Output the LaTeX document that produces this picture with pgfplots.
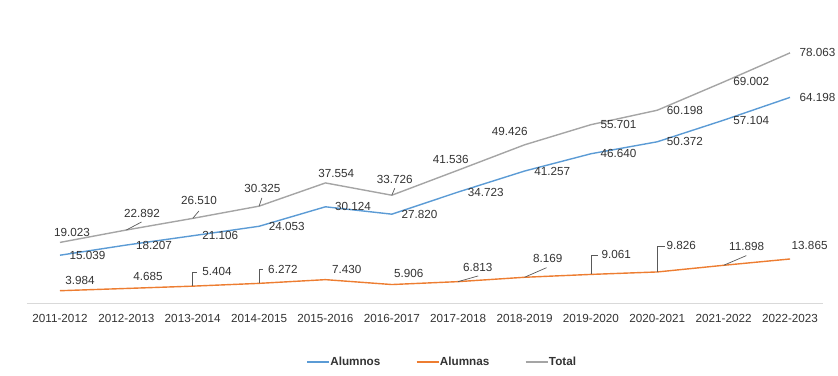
\documentclass[border=0pt]{standalone}
\usepackage{fontspec}
\setmainfont{Liberation Sans}
\usepackage{pgfplots}
\pgfplotsset{compat=1.18}
\definecolor{cBlue}{HTML}{5B9BD5}
\definecolor{cOrange}{HTML}{ED7D31}
\definecolor{cGray}{HTML}{A5A5A5}
\definecolor{cText}{HTML}{333333}
\definecolor{cAxis}{HTML}{D9D9D9}
\definecolor{cLead}{HTML}{595959}
\newcommand{\fs}{\fontsize{11.7bp}{13bp}\selectfont}
\newcommand{\lab}[5]{\node[font=\fs, text=cText, inner sep=0, anchor=center] at ([shift={(#3bp,#4bp)}]axis cs:#1,#2) {#5};}
\newcommand{\labR}[3]{\node[font=\fs, text=cText, inner sep=0, anchor=west] at ([xshift=9.5bp]axis cs:#1,#2) {#3};}
\newcommand{\ldr}[4]{\draw[cLead, line width=0.7bp] (axis cs:#1,#2) -- ([shift={(#3bp,#4bp)}]axis cs:#1,#2);}
\newcommand{\elb}[4]{\draw[cLead, line width=0.7bp] (axis cs:#1,#2) -- ([shift={(0bp,#3bp)}]axis cs:#1,#2) -- ([shift={(#4bp,#3bp)}]axis cs:#1,#2);}
\begin{document}
\begin{tikzpicture}
\path[use as bounding box] (0,0) rectangle (838bp,376bp);
\begin{axis}[
  at={(26.8bp,72.5bp)}, anchor=south west,
  scale only axis, width=796.4bp, height=272.9bp,
  xmin=-0.5, xmax=11.5, ymin=0, ymax=85,
  clip=false,
  axis x line=bottom, axis y line=none,
  x axis line style={cAxis, line width=0.8bp, -},
  major tick length=0pt,
  xtick={0,1,2,3,4,5,6,7,8,9,10,11},
  xticklabels={2011-2012,2012-2013,2013-2014,2014-2015,2015-2016,2016-2017,2017-2018,2018-2019,2019-2020,2020-2021,2021-2022,2022-2023},
  xticklabel style={font=\fs, text=cText, anchor=north, inner sep=0pt, yshift=-10.6bp},
  ytick=\empty,
  legend columns=3,
  legend style={at={(0.5207,-0.2144)}, anchor=center, draw=none, fill=none,
    font=\bfseries\fs, text=cText,
    nodes={inner sep=0.6bp},
    /tikz/every even column/.append style={column sep=35bp}},
  legend image code/.code={\draw[#1, line width=1.4bp] (0bp,0bp) -- (22bp,0bp);},
]
\addplot[cBlue, line width=1.4bp, mark=none] coordinates {
 (0,15.039) (1,18.207) (2,21.106) (3,24.053) (4,30.124) (5,27.820)
 (6,34.723) (7,41.257) (8,46.640) (9,50.372) (10,57.104) (11,64.198)};
\addlegendentry{Alumnos}
\addplot[cOrange, line width=1.4bp, mark=none] coordinates {
 (0,3.984) (1,4.685) (2,5.404) (3,6.272) (4,7.430) (5,5.906)
 (6,6.813) (7,8.169) (8,9.061) (9,9.826) (10,11.898) (11,13.865)};
\addlegendentry{Alumnas}
\addplot[cGray, line width=1.4bp, mark=none] coordinates {
 (0,19.023) (1,22.892) (2,26.510) (3,30.325) (4,37.554) (5,33.726)
 (6,41.536) (7,49.426) (8,55.701) (9,60.198) (10,69.002) (11,78.063)};
\addlegendentry{Total}

% Alumnos labels
\labR{0}{15.039}{15.039}
\labR{1}{18.207}{18.207}
\labR{2}{21.106}{21.106}
\labR{3}{24.053}{24.053}
\labR{4}{30.124}{30.124}
\labR{5}{27.820}{27.820}
\labR{6}{34.723}{34.723}
\labR{7}{41.257}{41.257}
\labR{8}{46.640}{46.640}
\labR{9}{50.372}{50.372}
\labR{10}{57.104}{57.104}
\labR{11}{64.198}{64.198}

% Total labels
\lab{0}{19.023}{12}{10.4}{19.023}
\ldr{1}{22.892}{15.2}{8}
\lab{1}{22.892}{15.6}{17}{22.892}
\ldr{2}{26.510}{6.2}{7.4}
\lab{2}{26.510}{6.2}{17.7}{26.510}
\ldr{3}{30.325}{2.8}{8.2}
\lab{3}{30.325}{3.3}{17.2}{30.325}
\lab{4}{37.554}{10.9}{9}{37.554}
\ldr{5}{33.726}{3}{7}
\lab{5}{33.726}{3}{15.9}{33.726}
\lab{6}{41.536}{-7.4}{10.2}{41.536}
\lab{7}{49.426}{-14.8}{13.1}{49.426}
\labR{8}{55.701}{55.701}
\labR{9}{60.198}{60.198}
\labR{10}{69.002}{69.002}
\labR{11}{78.063}{78.063}

% Alumnas labels
\lab{0}{3.984}{20}{10.7}{3.984}
\lab{1}{4.685}{21.6}{11.5}{4.685}
\elb{2}{5.404}{14.2}{3.9}
\lab{2}{5.404}{24.2}{14.5}{5.404}
\elb{3}{6.272}{14.4}{4}
\lab{3}{6.272}{23.8}{14.1}{6.272}
\lab{4}{7.430}{21.4}{9.9}{7.430}
\lab{5}{5.906}{17}{11.2}{5.906}
\ldr{6}{6.813}{20}{5.7}
\lab{6}{6.813}{19.6}{14.3}{6.813}
\ldr{7}{8.169}{22}{9.6}
\lab{7}{8.169}{23.2}{19}{8.169}
\elb{8}{9.061}{19.4}{7}
\lab{8}{9.061}{25.3}{20.1}{9.061}
\elb{9}{9.826}{26}{7.4}
\lab{9}{9.826}{23.9}{26.7}{9.826}
\ldr{10}{11.898}{22.7}{9.7}
\lab{10}{11.898}{23}{18.6}{11.898}
\lab{11}{13.865}{19.6}{13.3}{13.865}
\end{axis}
\end{tikzpicture}
\end{document}
